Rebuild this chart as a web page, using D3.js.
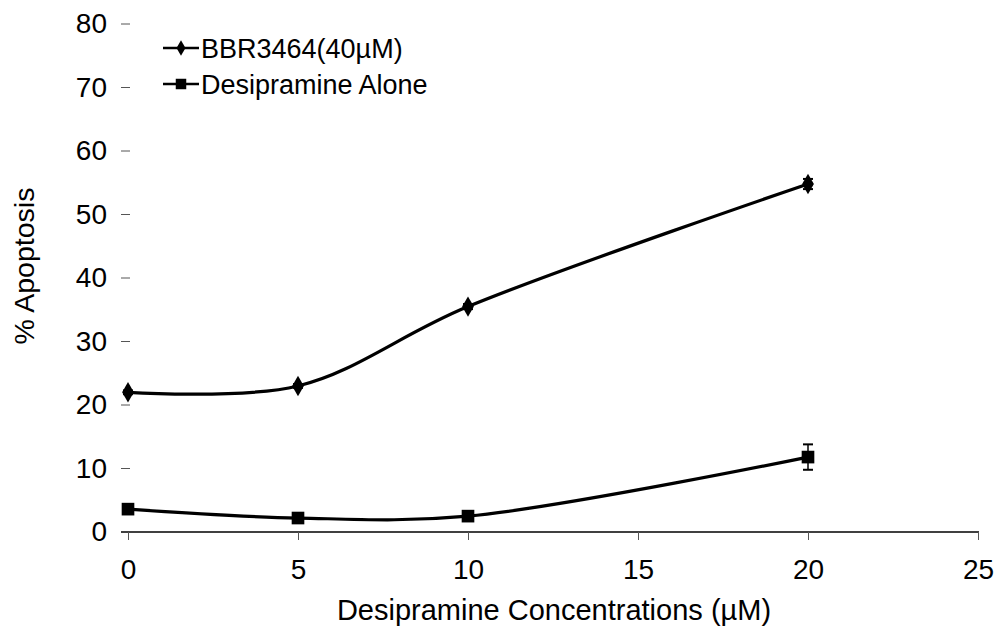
<!DOCTYPE html>
<html>
<head>
<meta charset="utf-8">
<script src="https://cdn.jsdelivr.net/npm/d3@7"></script>
<style>
  html, body { margin: 0; padding: 0; background: #fff; }
  svg { display: block; font-family: "Liberation Sans", Arial, sans-serif; }
</style>
</head>
<body>
<svg id="chart" width="998" height="629"></svg>
<script>
// Desipramine concentrations (µM)
const concentrations = [0, 5, 10, 20];
// % apoptosis with BBR3464 (40µM) added
const bbrValues = [22.0, 23.0, 35.5, 54.8];
const bbrErrors = [0.3, 0.3, 0.4, 0.8];
// % apoptosis with desipramine alone
const desiValues = [3.6, 2.2, 2.5, 11.8];
const desiErrors = [0.3, 0.3, 0.3, 2.0];

const xTicks = [0, 5, 10, 15, 20, 25];
const yTicks = [0, 10, 20, 30, 40, 50, 60, 70, 80];
const seriesNames = ["BBR3464(40µM)", "Desipramine Alone"];

const FONT = "Liberation Sans, Arial, sans-serif";
const svg = d3.select("#chart");

const x = d3.scaleLinear().domain([0, 25]).range([128, 978]);
const y = d3.scaleLinear().domain([0, 80]).range([532, 24]);

// x axis: baseline with short downward ticks
svg.append("line")
  .attr("x1", 121).attr("x2", 979)
  .attr("y1", y(0)).attr("y2", y(0))
  .attr("stroke", "#000").attr("stroke-width", 1.5);

const xAxis = d3.axisBottom(x).tickValues(xTicks).tickSize(8).tickPadding(19);
const gx = svg.append("g").attr("transform", `translate(0,${y(0)})`).call(xAxis);
gx.select(".domain").remove();
gx.selectAll(".tick line").attr("stroke", "#555").attr("stroke-width", 1);
gx.selectAll(".tick text").attr("font-size", 28).attr("fill", "#000")
  .attr("font-family", FONT);

// y axis: no spine, short gray dashes left of the plot
const yAxis = d3.axisLeft(y).tickValues(yTicks).tickSize(0).tickPadding(0);
const gy = svg.append("g").attr("transform", "translate(107,0)").call(yAxis);
gy.select(".domain").remove();
gy.selectAll(".tick text").attr("font-size", 28).attr("fill", "#000")
  .attr("font-family", FONT);
svg.append("g").selectAll("line").data(yTicks.filter(d => d !== 0)).join("line")
  .attr("x1", 121).attr("x2", 130)
  .attr("y1", d => y(d)).attr("y2", d => y(d))
  .attr("stroke", "#555").attr("stroke-width", 1);

// axis titles
svg.append("text")
  .attr("x", 554).attr("y", 620)
  .attr("text-anchor", "middle")
  .attr("font-size", 29)
  .text("Desipramine Concentrations (µM)");
svg.append("text")
  .attr("transform", "translate(34,266) rotate(-90)")
  .attr("text-anchor", "middle")
  .attr("font-size", 28.5)
  .text("% Apoptosis");

const line = d3.line()
  .x(d => x(d[0])).y(d => y(d[1]))
  .curve(d3.curveCatmullRom.alpha(0.5));

const bbr = concentrations.map((c, i) => [c, bbrValues[i], bbrErrors[i]]);
const desi = concentrations.map((c, i) => [c, desiValues[i], desiErrors[i]]);

function drawSeries(data, symbolType, size) {
  const g = svg.append("g");
  g.append("path").datum(data)
    .attr("d", line)
    .attr("fill", "none").attr("stroke", "#000").attr("stroke-width", 3.2);
  // error bars
  const eb = g.selectAll(".eb").data(data).join("g");
  eb.append("line")
    .attr("x1", d => x(d[0])).attr("x2", d => x(d[0]))
    .attr("y1", d => y(d[1] - d[2])).attr("y2", d => y(d[1] + d[2]))
    .attr("stroke", "#000").attr("stroke-width", 1.5);
  eb.selectAll(".cap").data(d => [[d[0], d[1] - d[2]], [d[0], d[1] + d[2]]]).join("line")
    .attr("x1", d => x(d[0]) - 5).attr("x2", d => x(d[0]) + 5)
    .attr("y1", d => y(d[1])).attr("y2", d => y(d[1]))
    .attr("stroke", "#000").attr("stroke-width", 2);
  g.selectAll(".m").data(data).join("path")
    .attr("transform", d => `translate(${x(d[0])},${y(d[1])})`)
    .attr("d", d3.symbol().type(symbolType).size(size))
    .attr("fill", "#000");
}

drawSeries(bbr, d3.symbolDiamond, 120);
drawSeries(desi, d3.symbolSquare, 160);

// legend
const legend = [
  { name: seriesNames[0], sym: d3.symbolDiamond, size: 70, y: 48 },
  { name: seriesNames[1], sym: d3.symbolSquare, size: 110, y: 84 }
];
const lg = svg.append("g").selectAll("g").data(legend).join("g")
  .attr("transform", d => `translate(0,${d.y})`);
lg.append("line").attr("x1", 163).attr("x2", 199).attr("y1", 0).attr("y2", 0)
  .attr("stroke", "#000").attr("stroke-width", 2.5);
lg.append("path").attr("transform", "translate(181,0)")
  .attr("d", d => d3.symbol().type(d.sym).size(d.size)())
  .attr("fill", "#000");
lg.append("text").attr("x", 201).attr("y", 0).attr("dy", "0.36em")
  .attr("font-size", 27).text(d => d.name);
</script>
</body>
</html>
